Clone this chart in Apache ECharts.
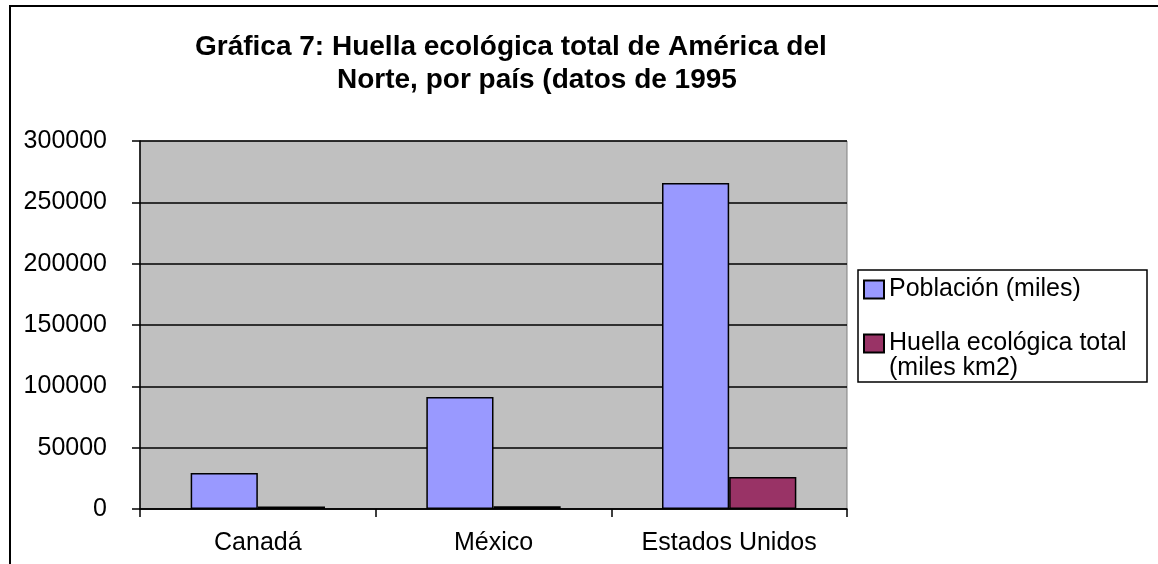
<!DOCTYPE html>
<html>
<head>
<meta charset="utf-8">
<script src="https://cdn.jsdelivr.net/npm/echarts@6/dist/echarts.min.js"></script>
<style>
  html, body { margin: 0; padding: 0; background: #fff; }
  #chart { width: 1158px; height: 564px; }
</style>
</head>
<body>
<div id="chart"></div>
<script>
// data
var categories = ['Canadá', 'México', 'Estados Unidos'];
var poblacion = [29300, 91300, 265700];
var huella = [2000, 2300, 26100];
var seriesNames = ['Población (miles)', 'Huella ecológica total (miles km2)'];
var yTicks = { min: 0, max: 300000, step: 50000 };
var titleLines = ['Gráfica 7: Huella ecológica total de América del', 'Norte, por país (datos de 1995'];

var myChart = echarts.init(document.getElementById('chart'));

var fontFam = '"Liberation Sans", Arial, sans-serif';

option = {
    backgroundColor: '#ffffff',
    animation: false,
    textStyle: { fontFamily: fontFam, color: '#000' },
    graphic: [
        // outer frame
        { type: 'rect', shape: { x: 10, y: 6, width: 1160, height: 570 },
          style: { fill: 'none', stroke: '#000', lineWidth: 2 }, silent: true },
        // title, two lines as in the original
        { type: 'text', x: 195, y: 47,
          style: { text: titleLines[0], font: 'bold 28px ' + fontFam, fill: '#000',
                   textAlign: 'left', textVerticalAlign: 'middle' } },
        { type: 'text', x: 337, y: 80,
          style: { text: titleLines[1], font: 'bold 28px ' + fontFam, fill: '#000',
                   textAlign: 'left', textVerticalAlign: 'middle' } },
        // legend frame
        { type: 'rect', shape: { x: 858, y: 270, width: 289, height: 112 },
          style: { fill: '#fff', stroke: '#000', lineWidth: 1.5 }, z: -1 },
        { type: 'text', x: 889, y: 368,
          style: { text: '(miles km2)', font: '25px ' + fontFam, fill: '#000',
                   textVerticalAlign: 'middle' } }
    ],
    legend: [{
        data: [seriesNames[0]],
        left: 863, top: 277, padding: 0,
        icon: 'rect', itemWidth: 20, itemHeight: 18,
        textStyle: { fontSize: 25, color: '#000', fontFamily: fontFam }
    }, {
        data: [seriesNames[1]],
        left: 863, top: 331, padding: 0,
        icon: 'rect', itemWidth: 20, itemHeight: 18,
        formatter: function (name) { return 'Huella ecológica total'; },
        textStyle: { fontSize: 25, color: '#000', fontFamily: fontFam }
    }],
    grid: {
        left: 140, right: 311, top: 141, bottom: 55,
        show: true, backgroundColor: '#C0C0C0',
        borderColor: '#808080', borderWidth: 1
    },
    xAxis: {
        type: 'category',
        data: categories,
        axisLine: { lineStyle: { color: '#000', width: 1.5 } },
        axisTick: { show: true, length: 8, alignWithLabel: false, lineStyle: { color: '#000', width: 1.5 } },
        axisLabel: { fontSize: 25, color: '#000', margin: 22 }
    },
    yAxis: {
        type: 'value',
        min: yTicks.min, max: yTicks.max, interval: yTicks.step,
        axisLine: { show: true, lineStyle: { color: '#000', width: 1.5 } },
        axisTick: { show: true, length: 8, lineStyle: { color: '#000', width: 1.5 } },
        splitLine: { show: true, lineStyle: { color: '#000', width: 1.5 } },
        axisLabel: {
            fontSize: 25, color: '#000', margin: 33,
            formatter: function (v) { return String(v); }
        }
    },
    series: [{
        name: seriesNames[0],
        type: 'bar',
        data: poblacion,
        barGap: 0,
        barCategoryGap: '43%',
        itemStyle: { color: '#9999FF', borderColor: '#000', borderWidth: 1.5 }
    }, {
        name: seriesNames[1],
        type: 'bar',
        data: huella,
        itemStyle: { color: '#993366', borderColor: '#000', borderWidth: 1.5 }
    }]
};

myChart.setOption(option);
</script>
</body>
</html>
